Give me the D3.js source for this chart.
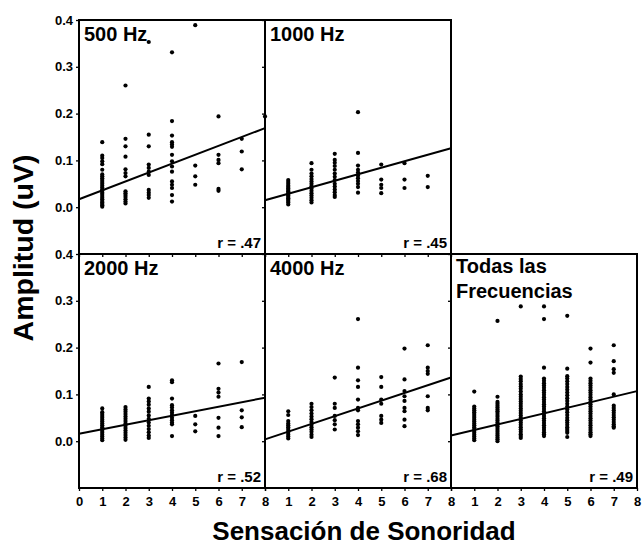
<!DOCTYPE html>
<html>
<head>
<meta charset="utf-8">
<script src="https://cdn.jsdelivr.net/npm/d3@7"></script>
<style>
  body { margin: 0; background: #fff; }
  svg text { font-family: "Liberation Sans", Arial, sans-serif; font-weight: bold; fill: #000; }
  .axis line { stroke: #000; stroke-width: 1.3; }
  .axis path { display: none; }
</style>
</head>
<body>
<svg id="chart" width="642" height="548"></svg>
<script>
// panel titles and r values
var panelNames = ["500 Hz", "1000 Hz", "2000 Hz", "4000 Hz", "Todas las|Frecuencias"];
var rValues    = ["r = .47", "r = .45", "r = .52", "r = .68", "r = .49"];

// regression line values at x = 0 and x = 8
var lineAt0 = [0.017, 0.015, 0.016, 0.004, 0.012];
var lineAt8 = [0.169, 0.126, 0.093, 0.136, 0.107];

var xTicks = [0, 1, 2, 3, 4, 5, 6, 7, 8];
var yTicks = [0, 0.1, 0.2, 0.3, 0.4];

// amplitude columns: [sensacion, [amplitudes]]
var amp500 = [
  [1, [0.139, 0.11, 0.105, 0.098, 0.092, 0.08, 0.07, 0.066, 0.062, 0.058, 0.054, 0.05, 0.046, 0.042, 0.038, 0.035, 0.031, 0.028, 0.024, 0.02, 0.017, 0.013, 0.01, 0.007, 0.004, 0.001]],
  [2, [0.26, 0.146, 0.13, 0.108, 0.081, 0.073, 0.066, 0.034, 0.03, 0.026, 0.022, 0.017, 0.012, 0.008]],
  [3, [0.353, 0.155, 0.13, 0.091, 0.084, 0.076, 0.069, 0.037, 0.031, 0.026, 0.02]],
  [4, [0.331, 0.184, 0.153, 0.139, 0.134, 0.129, 0.112, 0.098, 0.087, 0.076, 0.055, 0.048, 0.041, 0.026, 0.012]],
  [5, [0.389, 0.089, 0.066, 0.048]],
  [6, [0.194, 0.112, 0.101, 0.094, 0.039, 0.035]],
  [7, [0.146, 0.119, 0.081]],
  [8, [0.194]]
];
var amp1000 = [
  [1, [0.058, 0.054, 0.05, 0.046, 0.043, 0.04, 0.037, 0.034, 0.031, 0.028, 0.025, 0.022, 0.019, 0.016, 0.013, 0.01, 0.006]],
  [2, [0.094, 0.08, 0.072, 0.066, 0.06, 0.055, 0.05, 0.045, 0.04, 0.035, 0.03, 0.025, 0.02, 0.015, 0.01]],
  [3, [0.114, 0.101, 0.095, 0.088, 0.08, 0.072, 0.065, 0.058, 0.05, 0.044, 0.038, 0.032, 0.026, 0.022]],
  [4, [0.203, 0.116, 0.089, 0.08, 0.074, 0.068, 0.062, 0.056, 0.05, 0.043, 0.031]],
  [5, [0.091, 0.059, 0.048, 0.041, 0.03]],
  [6, [0.094, 0.059, 0.041]],
  [7, [0.067, 0.043]]
];
var amp2000 = [
  [1, [0.07, 0.062, 0.058, 0.054, 0.05, 0.046, 0.042, 0.038, 0.034, 0.03, 0.026, 0.022, 0.018, 0.014, 0.01, 0.006, 0.002]],
  [2, [0.073, 0.068, 0.063, 0.058, 0.053, 0.048, 0.043, 0.038, 0.033, 0.028, 0.023, 0.018, 0.013, 0.008, 0.003]],
  [3, [0.116, 0.091, 0.085, 0.078, 0.07, 0.063, 0.055, 0.048, 0.04, 0.033, 0.026, 0.019, 0.012, 0.007]],
  [4, [0.13, 0.126, 0.091, 0.077, 0.072, 0.066, 0.061, 0.056, 0.05, 0.045, 0.04, 0.036, 0.011]],
  [5, [0.054, 0.036, 0.021]],
  [6, [0.166, 0.112, 0.104, 0.095, 0.05, 0.029, 0.011]],
  [7, [0.169, 0.066, 0.051, 0.03]]
];
var amp4000 = [
  [1, [0.064, 0.056, 0.043, 0.038, 0.034, 0.03, 0.026, 0.022, 0.018, 0.014, 0.01, 0.006]],
  [2, [0.08, 0.073, 0.066, 0.059, 0.053, 0.047, 0.041, 0.035, 0.03, 0.025, 0.02, 0.014, 0.009]],
  [3, [0.136, 0.08, 0.071, 0.054, 0.045, 0.036, 0.025]],
  [4, [0.261, 0.157, 0.13, 0.116, 0.089, 0.071, 0.066, 0.043, 0.036, 0.029, 0.021, 0.013]],
  [5, [0.137, 0.116, 0.089, 0.08, 0.054, 0.046, 0.039]],
  [6, [0.198, 0.132, 0.107, 0.096, 0.086, 0.071, 0.064, 0.046, 0.032]],
  [7, [0.205, 0.157, 0.15, 0.144, 0.096, 0.071, 0.066]]
];
var ampTodas = [
  [1, [0.106, 0.074, 0.07, 0.066, 0.062, 0.058, 0.054, 0.05, 0.046, 0.042, 0.038, 0.034, 0.03, 0.026, 0.022, 0.018, 0.014, 0.01, 0.006, 0.002]],
  [2, [0.257, 0.095, 0.084, 0.08, 0.076, 0.072, 0.068, 0.064, 0.06, 0.056, 0.052, 0.048, 0.044, 0.04, 0.036, 0.032, 0.028, 0.024, 0.02, 0.016, 0.012, 0.008, 0.004, 0.0]],
  [3, [0.288, 0.138, 0.133, 0.128, 0.122, 0.117, 0.112, 0.106, 0.1, 0.095, 0.09, 0.085, 0.08, 0.075, 0.07, 0.065, 0.06, 0.055, 0.05, 0.045, 0.04, 0.035, 0.03, 0.025, 0.02, 0.015, 0.011, 0.007]],
  [4, [0.288, 0.261, 0.157, 0.134, 0.129, 0.124, 0.119, 0.114, 0.109, 0.104, 0.099, 0.094, 0.089, 0.084, 0.079, 0.074, 0.069, 0.064, 0.059, 0.054, 0.049, 0.044, 0.039, 0.034, 0.029, 0.024, 0.019, 0.015, 0.011]],
  [5, [0.268, 0.155, 0.139, 0.134, 0.128, 0.122, 0.116, 0.11, 0.104, 0.098, 0.092, 0.086, 0.08, 0.074, 0.068, 0.062, 0.056, 0.05, 0.045, 0.04, 0.035, 0.03, 0.026, 0.022, 0.018, 0.009]],
  [6, [0.198, 0.168, 0.134, 0.129, 0.124, 0.119, 0.114, 0.109, 0.104, 0.099, 0.094, 0.089, 0.084, 0.079, 0.074, 0.069, 0.064, 0.059, 0.054, 0.049, 0.044, 0.039, 0.034, 0.029, 0.024, 0.019, 0.015, 0.011]],
  [7, [0.205, 0.171, 0.154, 0.146, 0.1, 0.076, 0.071, 0.066, 0.061, 0.056, 0.051, 0.046, 0.041, 0.036, 0.032, 0.029]]
];

var panelData = [amp500, amp1000, amp2000, amp4000, ampTodas];
// grid slot (col, row) of each panel
var panelSlots = [[0, 0], [1, 0], [0, 1], [1, 1], [2, 1]];

var gridLeft = 79, gridTop = 20, pw = 186, ph = 234;

var svg = d3.select("#chart");
svg.append("rect").attr("width", 642).attr("height", 548).attr("fill", "#fff");

panelData.forEach(function(cols, i) {
  var col = panelSlots[i][0], row = panelSlots[i][1];
  var x0 = gridLeft + col * pw, y0 = gridTop + row * ph;

  var xscale = d3.scaleLinear().domain([0, 8]).range([x0, x0 + pw]);
  var yscale = d3.scaleLinear().domain([-0.1, 0.4]).range([y0 + ph, y0]);

  var g = svg.append("g");

  // axes (ticks outward, domain line hidden)
  var xaxis = d3.axisBottom(xscale).tickValues(xTicks).tickSize(3).tickPadding(6)
      .tickFormat(function(d) {
        if (row == 0) return "";
        if (d == 0 && col > 0) return "";
        return d;
      });
  g.append("g").attr("class", "axis")
    .attr("transform", "translate(0," + (y0 + ph) + ")")
    .call(xaxis)
    .selectAll("text").style("font-size", "13px");

  var yaxis = d3.axisLeft(yscale).tickValues(yTicks).tickSize(3).tickPadding(3)
      .tickFormat(function(d) { return col == 0 ? d3.format(".1f")(d) : ""; });
  g.append("g").attr("class", "axis")
    .attr("transform", "translate(" + x0 + ",0)")
    .call(yaxis)
    .selectAll("text").style("font-size", "13px");

  // points
  var pts = [];
  cols.forEach(function(c) {
    c[1].forEach(function(v) { pts.push({x: c[0], y: v}); });
  });
  g.selectAll("circle").data(pts).enter().append("circle")
    .attr("cx", function(d) { return xscale(d.x); })
    .attr("cy", function(d) { return yscale(d.y); })
    .attr("r", 2.1)
    .attr("fill", "#000");

  // regression line
  var line = d3.line().x(function(d) { return xscale(d[0]); })
                      .y(function(d) { return yscale(d[1]); });
  g.append("path")
    .attr("d", line([[0, lineAt0[i]], [8, lineAt8[i]]]))
    .attr("fill", "none").attr("stroke", "#000").attr("stroke-width", 2);

  // frame
  g.append("rect")
    .attr("x", x0).attr("y", y0).attr("width", pw).attr("height", ph)
    .attr("fill", "none").attr("stroke", "#000").attr("stroke-width", 2);

  // title
  var lines = panelNames[i].split("|");
  lines.forEach(function(t, k) {
    g.append("text")
      .attr("x", x0 + 5)
      .attr("y", y0 + (lines.length > 1 ? 19 : 21) + k * 25)
      .style("font-size", "20px")
      .text(t);
  });

  // r value
  g.append("text")
    .attr("x", x0 + pw - 4).attr("y", y0 + ph - 6)
    .attr("text-anchor", "end")
    .style("font-size", "15px")
    .text(rValues[i]);
});

// axis titles
svg.append("text")
  .attr("text-anchor", "middle")
  .attr("x", 364).attr("y", 540)
  .style("font-size", "26px")
  .text("Sensación de Sonoridad");

svg.append("text")
  .attr("text-anchor", "middle")
  .attr("transform", "translate(33,248)rotate(-90)")
  .style("font-size", "28.5px")
  .text("Amplitud (uV)");
</script>
</body>
</html>
